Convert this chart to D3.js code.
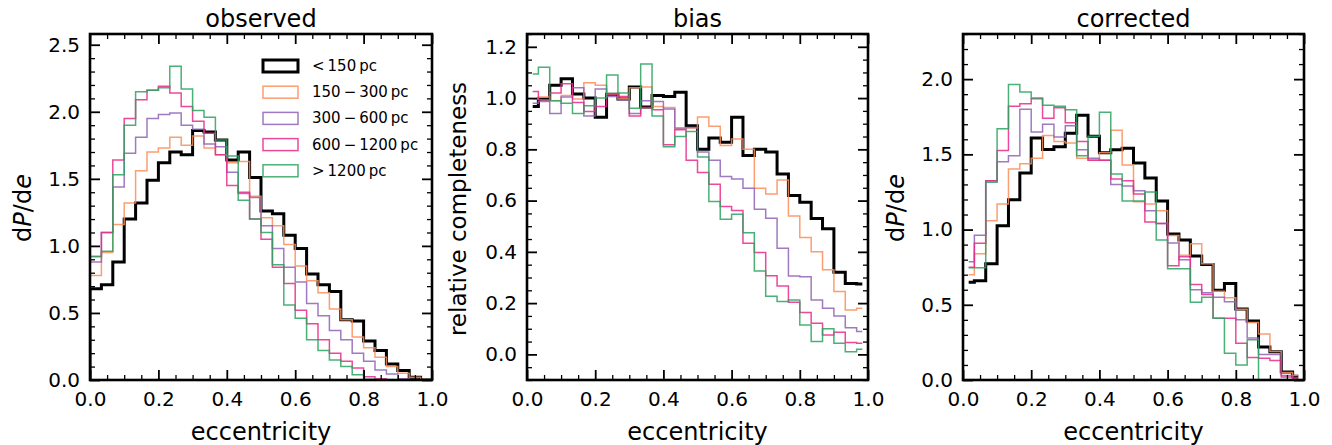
<!DOCTYPE html>
<html>
<head>
<meta charset="utf-8">
<script src="https://cdn.jsdelivr.net/npm/d3@7"></script>
<style>
  html, body { margin: 0; padding: 0; background: #fff; }
  svg text { font-family: "DejaVu Sans", sans-serif; fill: #000; }
</style>
</head>
<body>
<svg id="chart" width="1332" height="445"></svg>
<script>
// distance bins (legend order)
const distLabels = ['<\u2009150\u2009pc', '150\u2009\u2212\u2009300\u2009pc', '300\u2009\u2212\u2009600\u2009pc',
    '600\u2009\u2212\u20091200\u2009pc', '>\u20091200\u2009pc'];
const distColors = ['#000000', '#fc8d59', '#8e63b6', '#e7298a', '#2ca25f'];

const nBins = 30; // eccentricity bins of width 1/30

// observed dP/de
const obsLt150 = [0.68,0.71,0.88,1.20,1.32,1.49,1.62,1.70,1.68,1.86,1.85,1.79,1.64,1.70,1.51,1.26,1.24,1.08,0.98,0.79,0.71,0.66,0.45,0.44,0.29,0.22,0.12,0.07,0.02,0];
const obs150 = [0.78,0.95,1.16,1.32,1.56,1.70,1.73,1.81,1.75,1.82,1.73,1.68,1.62,1.63,1.37,1.21,1.15,1.01,0.85,0.74,0.65,0.53,0.45,0.32,0.24,0.17,0.10,0.05,0.02,0];
const obs300 = [0.88,1.10,1.44,1.69,1.81,1.95,1.98,1.99,1.90,1.87,1.76,1.74,1.55,1.39,1.36,1.15,0.98,0.84,0.73,0.57,0.48,0.37,0.30,0.20,0.14,0.075,0.045,0.01,0,0];
const obs600 = [0.92,1.10,1.64,1.95,2.09,2.16,2.19,2.14,2.04,1.93,1.84,1.68,1.45,1.40,1.20,1.05,0.84,0.72,0.52,0.42,0.30,0.20,0.14,0.09,0.025,0.01,0,0,0,0];
const obsGt1200 = [0.92,0.96,1.53,1.90,2.15,2.16,2.18,2.34,2.17,2.01,1.96,1.79,1.67,1.34,1.20,1.10,0.86,0.56,0.46,0.30,0.22,0.15,0.10,0.04,0.005,0,0,0,0,0];

// relative completeness
const biasLt150 = [0.967,0.996,1.05,1.075,1.016,1.00,0.925,1.015,0.996,1.043,0.965,1.01,1.006,1.023,0.892,0.80,0.844,0.828,0.925,0.776,0.80,0.79,0.704,0.62,0.594,0.53,0.49,0.32,0.277,0.275];
const bias150 = [0.996,1.004,0.99,1.01,0.996,1.06,1.05,1.016,0.997,1.04,1.043,0.967,0.963,0.88,0.883,0.926,0.89,0.815,0.84,0.80,0.648,0.626,0.68,0.54,0.456,0.40,0.33,0.245,0.173,0.18];
const bias300 = [0.98,0.987,0.94,1.004,1.04,0.93,1.035,1.006,0.993,0.94,0.99,0.987,0.957,0.883,0.885,0.79,0.757,0.694,0.684,0.648,0.566,0.531,0.414,0.306,0.303,0.212,0.18,0.15,0.104,0.089];
const bias600 = [1.026,0.993,1.02,1.056,0.983,0.948,0.967,1.017,1.006,0.93,0.963,0.954,0.818,0.876,0.757,0.71,0.664,0.577,0.561,0.434,0.397,0.307,0.267,0.203,0.163,0.121,0.076,0.086,0.046,0.043];
const biasGt1200 = [1.094,1.12,0.99,0.98,0.94,0.97,1.0,1.09,1.02,0.96,1.133,0.93,0.81,0.85,0.87,0.77,0.596,0.527,0.547,0.475,0.325,0.227,0.206,0.212,0.115,0.05,0.10,0.043,0.01,0.02];

// corrected dP/de
const corLt150 = [0.65,0.66,0.773,1.025,1.198,1.376,1.608,1.532,1.55,1.64,1.76,1.62,1.51,1.53,1.54,1.443,1.343,1.19,0.97,0.93,0.824,0.768,0.596,0.641,0.472,0.393,0.22,0.187,0.053,0.025];
const cor150 = [0.70,0.84,1.058,1.17,1.403,1.437,1.474,1.626,1.586,1.575,1.474,1.463,1.51,1.66,1.43,1.185,1.17,1.125,0.96,0.83,0.906,0.773,0.59,0.546,0.47,0.383,0.305,0.19,0.05,0.03];
const cor300 = [0.786,0.962,1.325,1.45,1.49,1.80,1.648,1.70,1.615,1.69,1.53,1.474,1.46,1.30,1.29,1.258,1.125,1.04,0.91,0.80,0.60,0.58,0.55,0.52,0.40,0.28,0.17,0.17,0.03,0.01];
const cor600 = [0.75,0.909,1.325,1.526,1.82,1.837,1.87,1.74,1.81,1.71,1.586,1.46,1.46,1.336,1.325,1.236,1.05,1.04,0.76,0.82,0.635,0.568,0.41,0.41,0.245,0.15,0.145,0.13,0.02,0.01];
const corGt1200 = [0.746,0.746,1.314,1.67,1.964,1.915,1.875,1.826,1.82,1.797,1.49,1.62,1.78,1.37,1.19,1.19,1.25,0.93,0.74,0.74,0.517,0.55,0.41,0.178,0.10,0.267,0,0,0,0];

const panels = [
    { title: 'observed', left: 90, right: 432, yDomain: [0, 2.58], yMajor: 0.5, yMinor: 0.1,
      ylabel: 'dPde', mode: 'hist', series: [obsLt150, obs150, obs300, obs600, obsGt1200], legend: true },
    { title: 'bias', left: 527, right: 868, yDomain: [-0.1, 1.25], yMajor: 0.2, yMinor: 0.05,
      ylabel: 'relative completeness', mode: 'mid', series: [biasLt150, bias150, bias300, bias600, biasGt1200] },
    { title: 'corrected', left: 963, right: 1304, yDomain: [0, 2.3], yMajor: 0.5, yMinor: 0.1,
      ylabel: 'dPde', mode: 'mid', series: [corLt150, cor150, cor300, cor600, corGt1200] }
];

const plotTop = 34, plotBottom = 380;
const svg = d3.select('#chart');

// ticks between lo and hi on a regular step, rounded to kill float noise
function stepTicks(lo, hi, step) {
    return d3.range(Math.ceil(lo / step - 1e-6), Math.floor(hi / step + 1e-6) + 1)
        .map(i => +(i * step).toFixed(4));
}

panels.forEach((p, pi) => {
    const x = d3.scaleLinear().domain([0, 1]).range([p.left, p.right]);
    const y = d3.scaleLinear().domain(p.yDomain).range([plotBottom, plotTop]);
    const g = svg.append('g').attr('class', 'panel');

    const clipId = 'clip' + pi;
    svg.append('clipPath').attr('id', clipId)
        .append('rect')
        .attr('x', p.left).attr('y', plotTop)
        .attr('width', p.right - p.left).attr('height', plotBottom - plotTop);

    // step lines
    const line = d3.line()
        .x(d => x(d.e))
        .y(d => y(d.v))
        .curve(p.mode === 'hist' ? d3.curveStepAfter : d3.curveStep);

    const lines = g.append('g').attr('clip-path', `url(#${clipId})`);
    p.series.forEach((vals, si) => {
        let pts;
        if (p.mode === 'hist') {
            pts = [{ e: 0, v: 0 }];
            vals.forEach((v, k) => pts.push({ e: k / nBins, v: v }));
            pts.push({ e: 1, v: vals[vals.length - 1] }, { e: 1, v: 0 });
        } else {
            pts = vals.map((v, k) => ({ e: (k + 0.5) / nBins, v: v }));
        }
        lines.append('path')
            .datum(pts)
            .attr('d', line)
            .attr('fill', 'none')
            .attr('stroke', distColors[si])
            .attr('stroke-opacity', si === 0 ? 1 : 0.85)
            .attr('stroke-width', si === 0 ? 3 : 1.5)
            .attr('stroke-linejoin', 'miter');
    });

    // ticks, pointing inward on all four sides
    const xMajor = stepTicks(0, 1, 0.2);
    const xMinor = stepTicks(0, 1, 0.05).filter(v => !xMajor.some(m => Math.abs(m - v) < 1e-6));
    const yMaj = stepTicks(p.yDomain[0], p.yDomain[1], p.yMajor);
    const yMin = stepTicks(p.yDomain[0], p.yDomain[1], p.yMinor)
        .filter(v => !yMaj.some(m => Math.abs(m - v) < 1e-6));

    const fmt = d3.format('.1f');
    const axes = [
        { axis: d3.axisBottom(x).tickValues(xMajor).tickSize(-10).tickPadding(12).tickFormat(fmt), t: `translate(0,${plotBottom})`, w: 1.8 },
        { axis: d3.axisBottom(x).tickValues(xMinor).tickSize(-5).tickFormat(''), t: `translate(0,${plotBottom})`, w: 1.3 },
        { axis: d3.axisTop(x).tickValues(xMajor).tickSize(-10).tickFormat(''), t: `translate(0,${plotTop})`, w: 1.8 },
        { axis: d3.axisTop(x).tickValues(xMinor).tickSize(-5).tickFormat(''), t: `translate(0,${plotTop})`, w: 1.3 },
        { axis: d3.axisLeft(y).tickValues(yMaj).tickSize(-10).tickPadding(10).tickFormat(fmt), t: `translate(${p.left},0)`, w: 1.8 },
        { axis: d3.axisLeft(y).tickValues(yMin).tickSize(-5).tickFormat(''), t: `translate(${p.left},0)`, w: 1.3 },
        { axis: d3.axisRight(y).tickValues(yMaj).tickSize(-10).tickFormat(''), t: `translate(${p.right},0)`, w: 1.8 },
        { axis: d3.axisRight(y).tickValues(yMin).tickSize(-5).tickFormat(''), t: `translate(${p.right},0)`, w: 1.3 }
    ];
    axes.forEach(a => {
        const ag = g.append('g').attr('transform', a.t).call(a.axis);
        ag.select('.domain').remove();
        ag.selectAll('line').attr('stroke', '#000').attr('stroke-width', a.w);
        ag.selectAll('text')
            .style('font-family', '"DejaVu Sans", sans-serif')
            .style('font-size', '20px')
            .attr('fill', '#000');
    });

    // frame
    g.append('rect')
        .attr('x', p.left).attr('y', plotTop)
        .attr('width', p.right - p.left).attr('height', plotBottom - plotTop)
        .attr('fill', 'none').attr('stroke', '#000').attr('stroke-width', 2.6);

    const cx = (p.left + p.right) / 2;
    g.append('text')
        .attr('x', cx).attr('y', 27)
        .attr('text-anchor', 'middle')
        .style('font-size', '24px')
        .text(p.title);

    g.append('text')
        .attr('x', cx).attr('y', 440)
        .attr('text-anchor', 'middle')
        .style('font-size', '24px')
        .text('eccentricity');

    // y label
    const isDens = p.ylabel === 'dPde';
    const yl = g.append('text')
        .attr('transform', `translate(${p.left - (isDens ? 59 : 61)},${isDens ? 208 : 209}) rotate(-90)`)
        .attr('text-anchor', 'middle')
        .style('font-size', isDens ? '24px' : '23px');
    if (isDens) {
        yl.append('tspan').text('d');
        yl.append('tspan').style('font-style', 'italic').text('P');
        yl.append('tspan').text('/d');
        yl.append('tspan').style('font-style', 'italic').text('e');
    } else {
        yl.text(p.ylabel);
    }

    // legend
    if (p.legend) {
        const lg = g.append('g');
        distLabels.forEach((lab, i) => {
            const cy = 66 + i * 26.2;
            lg.append('rect')
                .attr('x', 263).attr('y', cy - 6)
                .attr('width', 35).attr('height', 12)
                .attr('fill', 'none')
                .attr('stroke', distColors[i])
                .attr('stroke-opacity', i === 0 ? 1 : 0.85)
                .attr('stroke-width', i === 0 ? 3 : 1.5);
            lg.append('text')
                .attr('x', 312).attr('y', cy + 5)
                .style('font-size', '15px')
                .text(lab);
        });
    }
});
</script>
</body>
</html>
